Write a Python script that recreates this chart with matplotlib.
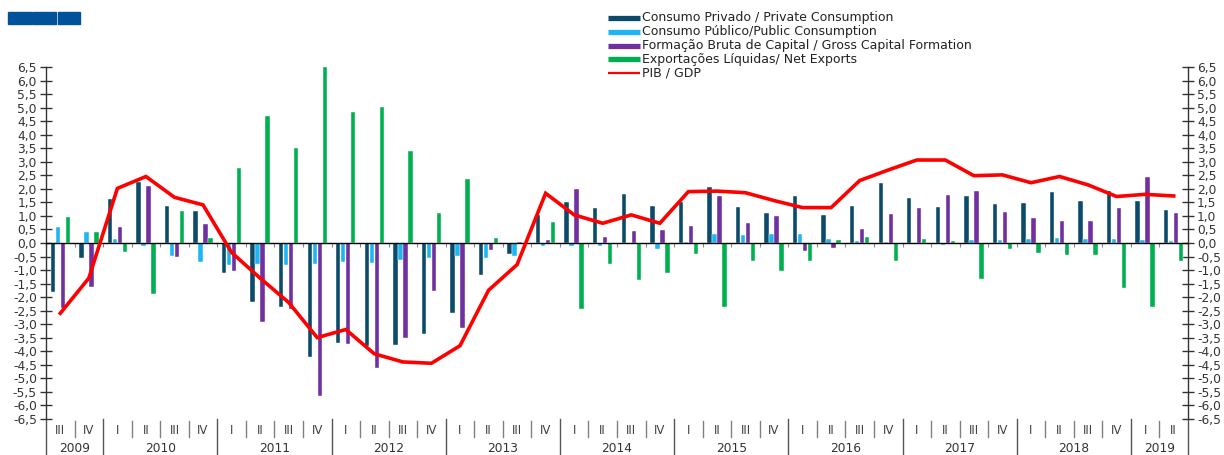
import matplotlib
matplotlib.use("Agg")
import matplotlib.pyplot as plt
import matplotlib.transforms as mtransforms
from matplotlib.lines import Line2D
from matplotlib.patches import Rectangle
import numpy as np

# ---------------- data ----------------
years = [2009] * 2 + [y for y in range(2010, 2019) for _ in range(4)] + [2019] * 2
quarters = ["III", "IV"] + ["I", "II", "III", "IV"] * 9 + ["I", "II"]

private_cons = [-1.8, -0.55, 1.62, 2.27, 1.38, 1.18, -1.1, -2.19, -2.35, -4.2,
                -3.7, -3.8, -3.77, -3.38, -2.59, -1.2, -0.4, 1.02, 1.5, 1.28,
                1.8, 1.37, 1.5, 2.06, 1.35, 1.12, 1.74, 1.05, 1.38, 2.21,
                1.65, 1.33, 1.75, 1.44, 1.49, 1.88, 1.56, 1.93, 1.56, 1.23]
public_cons = [0.6, 0.42, 0.14, -0.1, -0.47, -0.7, -0.83, -0.79, -0.8, -0.77,
               -0.72, -0.75, -0.64, -0.56, -0.49, -0.54, -0.48, -0.12, -0.1, -0.1,
               -0.02, -0.22, 0.03, 0.32, 0.31, 0.35, 0.33, 0.16, 0.07, 0.04,
               0.01, -0.08, 0.11, 0.11, 0.15, 0.17, 0.14, 0.14, 0.11, 0.07]
gross_cap = [-2.4, -1.62, 0.58, 2.11, -0.5, 0.69, -1.04, -2.93, -2.43, -5.65,
             -3.74, -4.62, -3.5, -1.79, -3.14, -0.27, 0.05, 0.11, 1.99, 0.21,
             0.43, 0.48, 0.63, 1.74, 0.73, 1.0, -0.31, -0.2, 0.53, 1.07,
             1.28, 1.77, 1.94, 1.16, 0.91, 0.81, 0.83, 1.31, 2.46, 1.11]
net_exports = [0.98, 0.4, -0.35, -1.9, 1.2, 0.2, 2.77, 4.68, 3.5, 6.5,
               4.86, 5.02, 3.4, 1.12, 2.36, 0.19, -0.03, 0.79, -2.43, -0.79,
               -1.36, -1.1, -0.42, -2.37, -0.68, -1.05, -0.68, 0.11, 0.21, -0.68,
               0.14, 0.07, -1.32, -0.21, -0.37, -0.46, -0.43, -1.67, -2.35, -0.68]
gdp = [-2.6, -1.3, 2.02, 2.46, 1.69, 1.41, -0.35, -1.3, -2.2, -3.5,
       -3.2, -4.1, -4.4, -4.45, -3.8, -1.75, -0.8, 1.84, 1.04, 0.73,
       1.04, 0.73, 1.9, 1.92, 1.86, 1.57, 1.31, 1.31, 2.31, 2.7,
       3.07, 3.07, 2.49, 2.52, 2.23, 2.46, 2.15, 1.72, 1.8, 1.74]

labels = ["Consumo Privado / Private Consumption",
          "Consumo Público/Public Consumption",
          "Formação Bruta de Capital / Gross Capital Formation",
          "Exportações Líquidas/ Net Exports",
          "PIB / GDP"]
colors = ["#0c4a6a", "#1eb6f0", "#7030a0", "#00b050", "#ff0000"]

# ---------------- figure ----------------
W, H = 1224, 455
fig = plt.figure(figsize=(W / 100, H / 100), dpi=100)
plt.rcParams['font.family'] = ['DejaVu Sans']

left_px, right_px, top_px, bot_px = 46, 1188, 67.3, 418.7
ax = fig.add_axes([left_px / W, 1 - bot_px / H, (right_px - left_px) / W, (bot_px - top_px) / H])

n = len(gdp)
x = np.arange(n) + 0.5
step = 0.175
bw = 0.155
series = [private_cons, public_cons, gross_cap, net_exports]
for k, vals in enumerate(series):
    ax.bar(x + (k - 1.5) * step, vals, width=bw, color=colors[k], zorder=2,
           edgecolor="white", linewidth=0.3)
ax.plot(x, gdp, color=colors[4], lw=2.6, zorder=4, solid_joinstyle="miter")

ax.set_xlim(0, n)
ax.set_ylim(-6.5, 6.5)

# spines
ax.spines['top'].set_visible(False)
ax.spines['bottom'].set_position(('data', 0))
ax.spines['bottom'].set_color('black')
ax.spines['bottom'].set_linewidth(1.0)
ax.spines['bottom'].set_zorder(3)
for s in ['left', 'right']:
    ax.spines[s].set_color('#333333')
    ax.spines[s].set_linewidth(1.0)

# y ticks
yt = np.arange(-6.5, 6.51, 0.5)
ax.set_yticks(yt)
ax.set_yticklabels([("%.1f" % (0.0 if abs(v) < 1e-9 else v)).replace('.', ',') for v in yt])
ax.tick_params(axis='y', direction='inout', length=8, width=1, color='#333333',
               left=True, right=True, labelleft=True, labelright=True,
               labelsize=8.8, labelcolor='#333333', pad=2.5)
# x minor ticks on zero line
ax.set_xticks(np.arange(0, n + 1))
ax.tick_params(axis='x', direction='out', length=3, width=0.8, color='#888888',
               labelbottom=False)

# category labels below
tr = mtransforms.blended_transform_factory(ax.transData, fig.transFigure)
def fy(px):
    return 1 - px / H

for i in range(n):
    ax.text(x[i], fy(431), quarters[i], transform=tr, ha='center', va='center',
            fontsize=8.5, color='#404040', clip_on=False)
    if i > 0 and years[i] == years[i - 1]:
        ax.plot([i, i], [fy(421), fy(437)], transform=tr, color='#808080',
                lw=1.0, clip_on=False)

# year labels and separators
uniq = []
for i, yv in enumerate(years):
    if not uniq or uniq[-1][0] != yv:
        uniq.append([yv, i, i])
    else:
        uniq[-1][2] = i
for yv, s, e in uniq:
    ax.text((s + e + 1) / 2, fy(448), str(yv), transform=tr, ha='center', va='center',
            fontsize=8.8, color='#333333', clip_on=False)
for yv, s, e in uniq:
    ax.plot([s, s], [fy(419), 0], transform=tr, color='#555555', lw=1.0, clip_on=False)
ax.plot([n, n], [fy(419), 0], transform=tr, color='#555555', lw=1.0, clip_on=False)

# legend (manual layout)
for k, lab in enumerate(labels):
    yc = fy(18 + 13.75 * k)
    lw = 3.8 if k < 4 else 1.6
    fig.add_artist(Line2D([608 / W, 640 / W], [yc, yc], transform=fig.transFigure,
                          color=colors[k], lw=lw, solid_capstyle='butt'))
    fig.text(642 / W, yc, lab, ha='left', va='center', fontsize=9, color='#222222')

# top-left blue blocks
for x0, x1 in [(8.3, 31.7), (33.3, 56.0), (58.3, 80.3)]:
    fig.patches.append(Rectangle((x0 / W, fy(24)), (x1 - x0) / W, 12.3 / H,
                                 transform=fig.transFigure, color='#00529b'))

fig.savefig("out.png", dpi=100)
